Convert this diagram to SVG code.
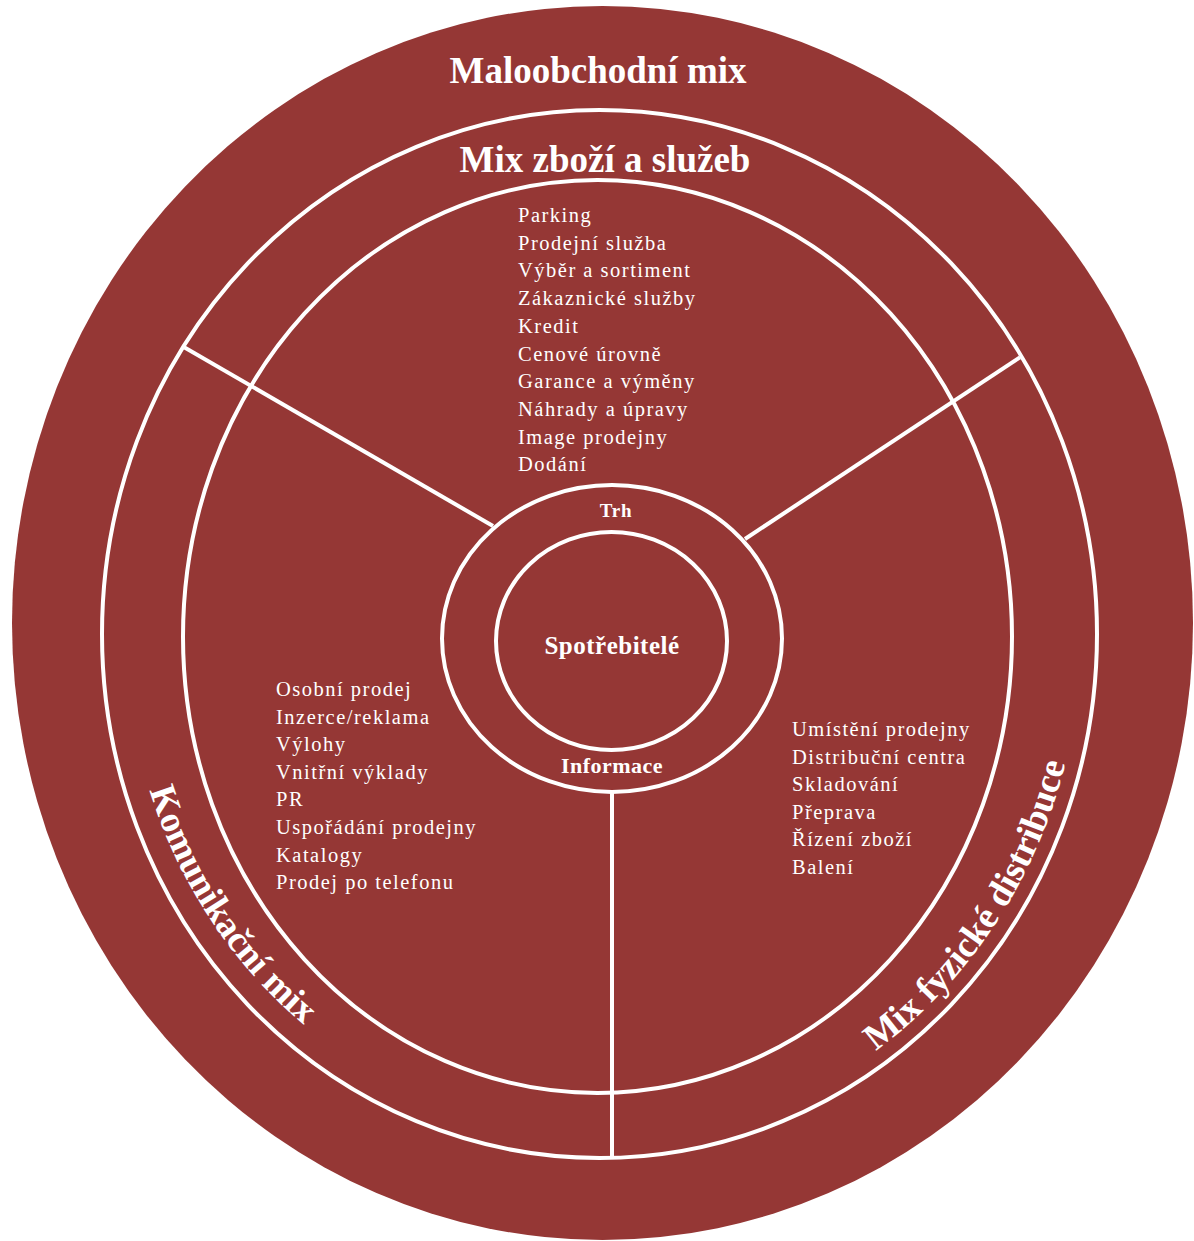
<svg xmlns="http://www.w3.org/2000/svg" width="1194" height="1241" viewBox="0 0 1194 1241">
  <style>
    .ring { fill: none; stroke: #ffffff; stroke-width: 4; }
    .spoke { stroke: #ffffff; stroke-width: 4; fill: none; }
    .title { font-family: "Liberation Serif", "Times New Roman", serif; font-weight: bold; fill: #ffffff; }
    .item { font-family: "Liberation Serif", "Times New Roman", serif; font-size: 20.5px; letter-spacing: 1.5px; fill: #ffffff; }
    .side { font-family: "Liberation Serif", "Times New Roman", serif; font-weight: bold; font-size: 37px; fill: #ffffff; }
  </style>
  <defs>
    <path id="arcLeft" d="M127.8,678.5 A473,499 0 0 0 399.1,1087.2"/>
    <path id="arcRight" d="M802.7,1095.4 A482,508 0 0 0 1079.2,679.3"/>
  </defs>

  <rect width="1194" height="1241" fill="#ffffff"/>

  <!-- outer band: retail mix -->
  <g id="maloobchodni-mix">
    <ellipse cx="602.5" cy="623" rx="590.5" ry="617" fill="#953735"/>
    <text class="title" x="598" y="83" font-size="37" text-anchor="middle">Maloobchodní mix</text>
  </g>

  <!-- middle and inner rings -->
  <g id="rings">
    <ellipse class="ring" cx="599.5" cy="634" rx="497.5" ry="524"/>
    <ellipse class="ring" cx="597.5" cy="636.5" rx="414.5" ry="456.5"/>
  </g>

  <!-- divider lines between the three sectors -->
  <g id="connectors">
    <line class="spoke" x1="183.3" y1="346.7" x2="493" y2="526"/>
    <line class="spoke" x1="1020" y1="357.3" x2="745" y2="539"/>
    <line class="spoke" x1="612" y1="793" x2="612" y2="1158"/>
  </g>

  <g id="mix-zbozi-a-sluzeb">
    <text class="title" x="605" y="172" font-size="37" text-anchor="middle">Mix zboží a služeb</text>
    <text class="item" x="518" y="222">Parking</text>
    <text class="item" x="518" y="249.7">Prodejní služba</text>
    <text class="item" x="518" y="277.4">Výběr a sortiment</text>
    <text class="item" x="518" y="305.1">Zákaznické služby</text>
    <text class="item" x="518" y="332.8">Kredit</text>
    <text class="item" x="518" y="360.5">Cenové úrovně</text>
    <text class="item" x="518" y="388.2">Garance a výměny</text>
    <text class="item" x="518" y="415.9">Náhrady a úpravy</text>
    <text class="item" x="518" y="443.6">Image prodejny</text>
    <text class="item" x="518" y="471.3">Dodání</text>
  </g>

  <g id="komunikacni-mix">
    <text class="side"><textPath href="#arcLeft" startOffset="50%" text-anchor="middle">Komunikační mix</textPath></text>
    <text class="item" x="276" y="696">Osobní prodej</text>
    <text class="item" x="276" y="723.6">Inzerce/reklama</text>
    <text class="item" x="276" y="751.2">Výlohy</text>
    <text class="item" x="276" y="778.8">Vnitřní výklady</text>
    <text class="item" x="276" y="806.4">PR</text>
    <text class="item" x="276" y="834">Uspořádání prodejny</text>
    <text class="item" x="276" y="861.6">Katalogy</text>
    <text class="item" x="276" y="889.2">Prodej po telefonu</text>
  </g>

  <g id="mix-fyzicke-distribuce">
    <text class="side"><textPath href="#arcRight" startOffset="50%" text-anchor="middle">Mix fyzické distribuce</textPath></text>
    <text class="item" x="792" y="736">Umístění prodejny</text>
    <text class="item" x="792" y="763.5">Distribuční centra</text>
    <text class="item" x="792" y="791">Skladování</text>
    <text class="item" x="792" y="818.5">Přeprava</text>
    <text class="item" x="792" y="846">Řízení zboží</text>
    <text class="item" x="792" y="873.5">Balení</text>
  </g>

  <!-- market ring with information flow -->
  <g id="trh">
    <ellipse class="ring" cx="612" cy="638.5" rx="170" ry="153.5"/>
    <text class="title" x="616" y="517" font-size="19" letter-spacing="0.8" text-anchor="middle">Trh</text>
    <text class="title" x="612" y="773" font-size="22" letter-spacing="0.5" text-anchor="middle">Informace</text>
  </g>

  <g id="spotrebitele">
    <ellipse class="ring" cx="611.5" cy="641" rx="115.5" ry="109"/>
    <text class="title" x="612" y="654" font-size="25" letter-spacing="0.5" text-anchor="middle">Spotřebitelé</text>
  </g>
</svg>
